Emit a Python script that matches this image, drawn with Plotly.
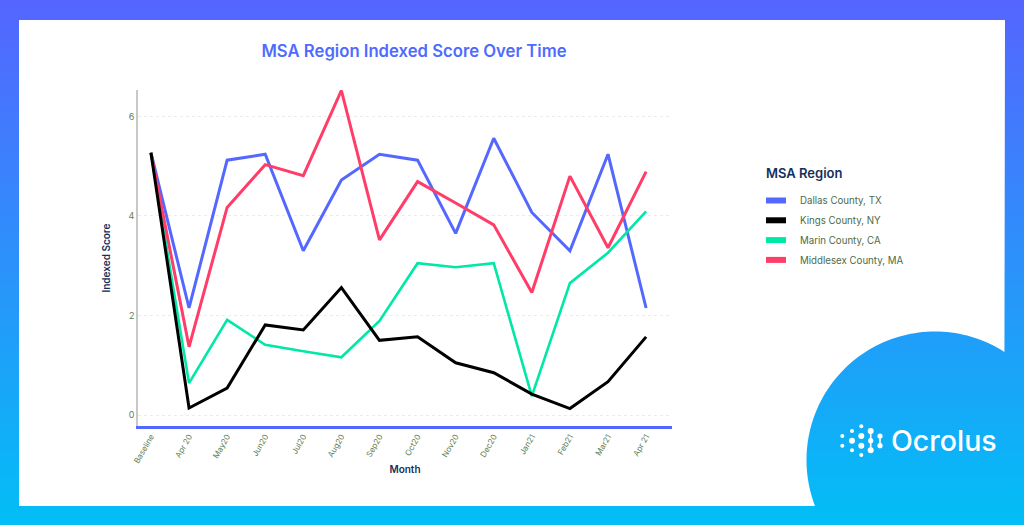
import base64
import numpy as np
import plotly.graph_objects as go

W = 1024
H = 525

months = ["Baseline", "Apr 20", "May20", "Jun20", "Jul20", "Aug20", "Sep20", "Oct20",
          "Nov20", "Dec20", "Jan21", "Feb21", "Mar21", "Apr 21"]
dallas = [5.27, 2.15, 5.12, 5.24, 3.30, 4.72, 5.24, 5.12, 3.65, 5.56, 4.07, 3.30, 5.24, 2.15]
kings = [5.27, 0.14, 0.54, 1.81, 1.71, 2.56, 1.50, 1.57, 1.05, 0.85, 0.42, 0.13, 0.67, 1.57]
marin = [5.27, 0.64, 1.91, 1.41, 1.28, 1.16, 1.89, 3.05, 2.97, 3.05, 0.38, 2.65, 3.26, 4.09]
middlesex = [5.27, 1.37, 4.17, 5.03, 4.81, 6.52, 3.52, 4.69, 4.26, 3.82, 2.46, 4.80, 3.36, 4.89]

BLUE = "#5468ff"
BLACK = "#000000"
GREEN = "#00e8a6"
RED = "#ff3d68"
NAVY = "#14305a"
TICK = "#5f7f55"


# page coordinates in pixels -> paper coordinates
def px(x):
    return x / W


def py(y):
    return 1 - y / H


fig = go.Figure()

# drawn in this order so black stays on top, legend is listed separately
fig.add_trace(go.Scatter(x=months, y=dallas, name="Dallas County, TX", mode="lines",
                         line=dict(color=BLUE, width=3)))
fig.add_trace(go.Scatter(x=months, y=marin, name="Marin County, CA", mode="lines",
                         line=dict(color=GREEN, width=2.6)))
fig.add_trace(go.Scatter(x=months, y=middlesex, name="Middlesex County, MA", mode="lines",
                         line=dict(color=RED, width=3)))
fig.add_trace(go.Scatter(x=months, y=kings, name="Kings County, NY", mode="lines",
                         line=dict(color=BLACK, width=3)))

# page background gradient
svg = ('<svg xmlns="http://www.w3.org/2000/svg" width="1024" height="525">'
       '<defs><linearGradient id="g" x1="0" y1="0" x2="0" y2="1">'
       '<stop offset="0" stop-color="#5565ff"/><stop offset="1" stop-color="#02bef6"/>'
       '</linearGradient></defs><rect width="1024" height="525" fill="url(#g)"/></svg>')
bg_src = "data:image/svg+xml;base64," + base64.b64encode(svg.encode()).decode()
fig.add_layout_image(dict(source=bg_src, xref="paper", yref="paper", x=0, y=1, sizex=1, sizey=1,
                          xanchor="left", yanchor="top", sizing="stretch", layer="below"))

# white panel with the round corner cut out
cx, cy, r = 935, 460, 128.5
a0 = np.arctan2(351 - cy, 1005 - cx)
a1 = np.arctan2(506 - cy, 815 - cx)
if a1 > 0:
    a1 = a1 - 2 * np.pi
angles = np.linspace(a0, a1, 80)
panel = f"M{px(19)},{py(20)} L{px(1005)},{py(20)} "
for a in angles:
    panel += f"L{px(cx + r * np.cos(a))},{py(cy + r * np.sin(a))} "
panel += f"L{px(19)},{py(506)} Z"
fig.add_shape(type="path", path=panel, xref="paper", yref="paper", fillcolor="white",
              line_width=0, layer="below")

# legend
fig.add_annotation(text="MSA Region", x=px(764), y=py(173), xref="paper", yref="paper",
                   xanchor="left", yanchor="middle", showarrow=False,
                   font=dict(family="Inter", size=13, color=NAVY, weight=600))
legend_names = ["Dallas County, TX", "Kings County, NY", "Marin County, CA", "Middlesex County, MA"]
legend_colors = [BLUE, BLACK, GREEN, RED]
for i, (name, color) in enumerate(zip(legend_names, legend_colors)):
    ly = 200.5 + i * 19.8
    fig.add_shape(type="rect", x0=px(766), x1=px(786), y0=py(ly - 3), y1=py(ly + 3),
                  xref="paper", yref="paper", fillcolor=color, line_width=0)
    fig.add_annotation(text=name, x=px(798), y=py(ly + 0.5), xref="paper", yref="paper",
                       xanchor="left", yanchor="middle", showarrow=False,
                       font=dict(family="Inter", size=9.7, color="#4d6b48"))

# logo
logo_dots = [(842.3, 436, 2), (842.3, 445.7, 2), (852, 431, 2), (852, 440.7, 3), (852, 450.3, 2),
             (861.3, 426.3, 2), (861.3, 436, 3), (861.3, 445.7, 3), (861.3, 455, 2),
             (870.7, 431, 3), (870.7, 440.7, 2.6), (870.7, 450.3, 3),
             (880, 436, 2.6), (880, 445.7, 2.6)]
for x, y, rad in logo_dots:
    fig.add_shape(type="circle", x0=px(x - rad), x1=px(x + rad), y0=py(y - rad), y1=py(y + rad),
                  xref="paper", yref="paper", fillcolor="white", line_width=0)
for x, y0, y1 in [(870.7, 431, 450.3), (880, 436, 445.7)]:
    fig.add_shape(type="line", x0=px(x), x1=px(x), y0=py(y0), y1=py(y1), xref="paper", yref="paper",
                  line=dict(color="white", width=1.6))
fig.add_annotation(text="Ocrolus", x=px(889), y=py(440), xref="paper", yref="paper",
                   xanchor="left", yanchor="middle", showarrow=False,
                   font=dict(family="Inter", size=28.5, color="white", weight=500))

fig.update_layout(
    width=W,
    height=H,
    margin=dict(l=0, r=0, t=0, b=0),
    paper_bgcolor="white",
    plot_bgcolor="rgba(0,0,0,0)",
    showlegend=False,
    font=dict(family="Inter"),
    title=dict(text="MSA Region Indexed Score Over Time", x=414 / W, xanchor="center",
               y=py(51), yanchor="middle",
               font=dict(family="Inter", size=16.7, color="#4f6bff", weight=600)),
)
fig.update_xaxes(
    domain=[px(138), px(672)],
    type="category",
    range=[-0.34, 13.68],
    showgrid=False,
    showline=True,
    linecolor=BLUE,
    linewidth=2.5,
    ticks="",
    tickangle=-60,
    tickfont=dict(family="Inter", size=8, color=TICK),
    title=dict(text="Month", standoff=3, font=dict(family="Inter", size=10, color=NAVY, weight=600)),
    automargin=False,
)
fig.update_yaxes(
    domain=[py(426), py(90)],
    range=[-0.221, 6.53],
    tickvals=[0, 2, 4, 6],
    showgrid=True,
    gridcolor="#ececec",
    griddash="dot",
    gridwidth=1,
    zeroline=False,
    showline=True,
    linecolor="#c8c8c8",
    linewidth=1.5,
    ticks="",
    tickfont=dict(family="Inter", size=9, color=TICK),
    title=dict(text="Indexed Score", standoff=16, font=dict(family="Inter", size=10, color=NAVY, weight=600)),
    automargin=False,
)

# browser default body margin would push the page 8px off
fig.write_html("out.html", config={"displayModeBar": False},
               post_script="document.body.style.margin = '0';")
